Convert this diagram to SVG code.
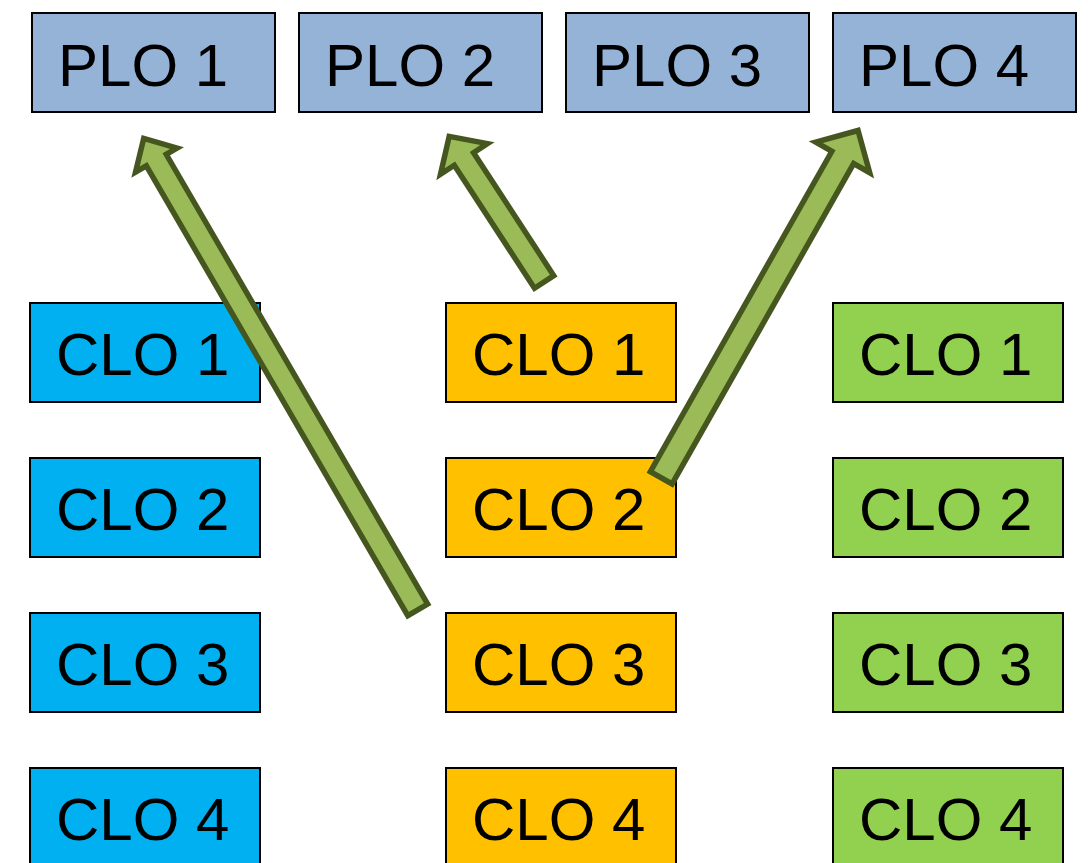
<svg xmlns="http://www.w3.org/2000/svg" width="1088" height="863" viewBox="0 0 1088 863">
<style>
rect{stroke:#000;stroke-width:2}
.plo{fill:#95b3d7}
.c1{fill:#00b0f0}
.c2{fill:#ffc000}
.c3{fill:#92d050}
text{font-family:"Liberation Sans",Arial,sans-serif;font-size:60px;fill:#000}
.arr{fill:#9bbb59;stroke:#46561f;stroke-width:5.5;stroke-linejoin:miter;stroke-miterlimit:10}
</style>
<rect width="1088" height="863" fill="#fff" style="stroke:none"/>
<g id="plo1"><rect class="plo" x="32" y="13" width="243" height="99"/><text x="58" y="86">PLO 1</text></g>
<g id="plo2"><rect class="plo" x="299" y="13" width="243" height="99"/><text x="325" y="86">PLO 2</text></g>
<g id="plo3"><rect class="plo" x="566" y="13" width="243" height="99"/><text x="592" y="86">PLO 3</text></g>
<g id="plo4"><rect class="plo" x="833" y="13" width="243" height="99"/><text x="859" y="86">PLO 4</text></g>

<g id="a-clo1"><rect class="c1" x="30" y="303" width="230" height="99"/><text x="56" y="375">CLO 1</text></g>
<g id="a-clo2"><rect class="c1" x="30" y="458" width="230" height="99"/><text x="56" y="530">CLO 2</text></g>
<g id="a-clo3"><rect class="c1" x="30" y="613" width="230" height="99"/><text x="56" y="685">CLO 3</text></g>
<g id="a-clo4"><rect class="c1" x="30" y="768" width="230" height="99"/><text x="56" y="840">CLO 4</text></g>

<g id="b-clo1"><rect class="c2" x="446" y="303" width="230" height="99"/><text x="472" y="375">CLO 1</text></g>
<g id="b-clo2"><rect class="c2" x="446" y="458" width="230" height="99"/><text x="472" y="530">CLO 2</text></g>
<g id="b-clo3"><rect class="c2" x="446" y="613" width="230" height="99"/><text x="472" y="685">CLO 3</text></g>
<g id="b-clo4"><rect class="c2" x="446" y="768" width="230" height="99"/><text x="472" y="840">CLO 4</text></g>

<g id="c-clo1"><rect class="c3" x="833" y="303" width="230" height="99"/><text x="859" y="375">CLO 1</text></g>
<g id="c-clo2"><rect class="c3" x="833" y="458" width="230" height="99"/><text x="859" y="530">CLO 2</text></g>
<g id="c-clo3"><rect class="c3" x="833" y="613" width="230" height="99"/><text x="859" y="685">CLO 3</text></g>
<g id="c-clo4"><rect class="c3" x="833" y="768" width="230" height="99"/><text x="859" y="840">CLO 4</text></g>

<g id="connectors">
<polygon class="arr" points="427.68,604.06 166.21,154.29 177.02,148.01 143.71,138.46 135.52,172.13 146.33,165.85 407.80,615.62"/>
<polygon class="arr" points="553.76,275.63 473.57,152.69 487.39,143.67 449.19,136.35 440.49,174.27 454.31,165.25 534.50,288.19"/>
<polygon class="arr" points="672.11,483.98 853.63,163.61 869.72,172.73 858.03,130.48 815.78,142.17 831.87,151.29 650.35,471.66"/>
</g>
</svg>
